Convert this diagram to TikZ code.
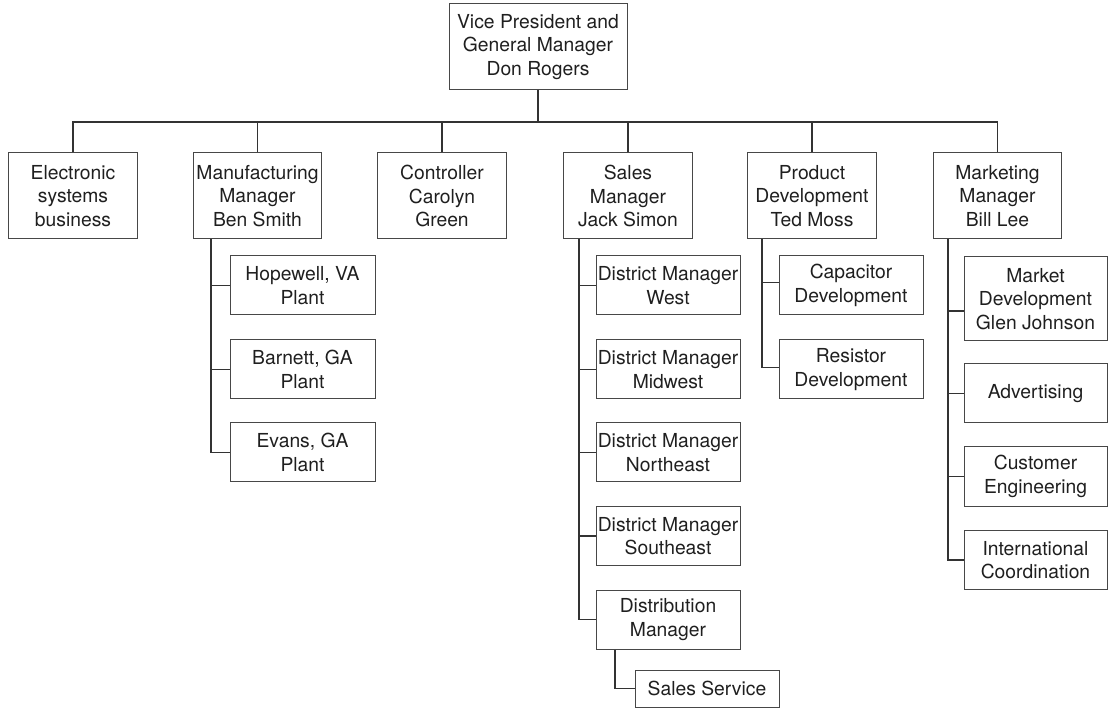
\documentclass[tikz,border=0pt]{standalone}
\usepackage{fontspec}
\setmainfont{TeX Gyre Heros}
\usetikzlibrary{calc}

\tikzset{
  unit/.style={draw=black!72, line width=1pt, rectangle, inner sep=0pt,
    align=center, text=black!88,
    font=\fontsize{19.3}{23.3}\selectfont},
  lvl/.style={unit, minimum width=128.5pt, minimum height=86pt},
  sub/.style={unit, minimum width=144pt, minimum height=59pt},
  link/.style={draw=black!80, line width=1.2pt}
}

\begin{document}
\begin{tikzpicture}[x=1pt, y=-1pt]
\useasboundingbox (0,0) rectangle (1109,708);

% top of the chart
\node[unit, minimum width=178pt, minimum height=86pt] (vp) at (538,47)
  {Vice President and\\General Manager\\Don Rogers};

% first level
\node[lvl] (es)  at (73,196)    {Electronic\\systems\\business};
\node[lvl] (mm)  at (257.5,196) {Manufacturing\\Manager\\Ben Smith};
\node[lvl] (ctl) at (442,196)   {Controller\\Carolyn\\Green};
\node[lvl] (sm)  at (628,196)   {Sales\\Manager\\Jack Simon};
\node[lvl] (pd)  at (812,196)   {Product\\Development\\Ted Moss};
\node[lvl] (mk)  at (997.5,196) {Marketing\\Manager\\Bill Lee};

% plants
\node[sub, minimum width=145pt] (p1) at (302.5,285.5) {Hopewell, VA\\Plant};
\node[sub, minimum width=145pt] (p2) at (302.5,369.5) {Barnett, GA\\Plant};
\node[sub, minimum width=145pt] (p3) at (302.5,452.5) {Evans, GA\\Plant};

% sales districts
\node[sub] (d1) at (668,285.5) {District Manager\\West};
\node[sub] (d2) at (668,369.5) {District Manager\\Midwest};
\node[sub] (d3) at (668,452.5) {District Manager\\Northeast};
\node[sub] (d4) at (668,536)   {District Manager\\Southeast};
\node[sub] (dm) at (668,619.5) {Distribution\\Manager};
\node[sub, minimum height=37pt] (ss) at (707,688.5) {Sales Service};

% product development
\node[sub] (cap) at (851,285.5) {Capacitor\\Development};
\node[sub] (res) at (851,369.5) {Resistor\\Development};

% marketing
\node[sub, minimum width=143pt, minimum height=84pt] (mdv) at (1035.5,299)
  {Market\\Development\\Glen Johnson};
\node[sub, minimum width=143pt] (adv) at (1035.5,393.5) {Advertising};
\node[sub, minimum width=143pt] (ce)  at (1035.5,476.5) {Customer\\Engineering};
\node[sub, minimum width=143pt] (ic)  at (1035.5,560)   {International\\Coordination};

% main bus
\coordinate (bus) at (0,122);
\draw[link] (vp.south) -- (vp.south |- bus);
\draw[link] (es.north) -- (es.north |- bus) -- (mk.north |- bus) -- (mk.north);
\foreach \n in {mm,ctl,sm,pd}
  \draw[link] (\n.north) -- (\n.north |- bus);

% manufacturing branch
\coordinate (mx) at (211,0);
\draw[link] (mm.south -| mx) |- (p3.west);
\foreach \n in {p1,p2}
  \draw[link] (\n.west) -- (\n.west -| mx);

% sales branch
\coordinate (sx) at (579,0);
\draw[link] (sm.south -| sx) |- (dm.west);
\foreach \n in {d1,d2,d3,d4}
  \draw[link] (\n.west) -- (\n.west -| sx);
\coordinate (dx) at (615,0);
\draw[link] (dm.south -| dx) |- (ss.west);

% product development branch
\coordinate (px) at (762,0);
\draw[link] (pd.south -| px) |- ($(res.west)+(0,-2)$);
\draw[link] ($(cap.west)+(0,-3)$) -- ($(cap.west -| px)+(0,-3)$);

% marketing branch
\coordinate (kx) at (948,0);
\draw[link] (mk.south -| kx) |- (ic.west);
\draw[link] ($(mdv.west)+(0,12)$) -- ($(mdv.west -| kx)+(0,12)$);
\foreach \n in {adv,ce}
  \draw[link] (\n.west) -- (\n.west -| kx);
\end{tikzpicture}
\end{document}
